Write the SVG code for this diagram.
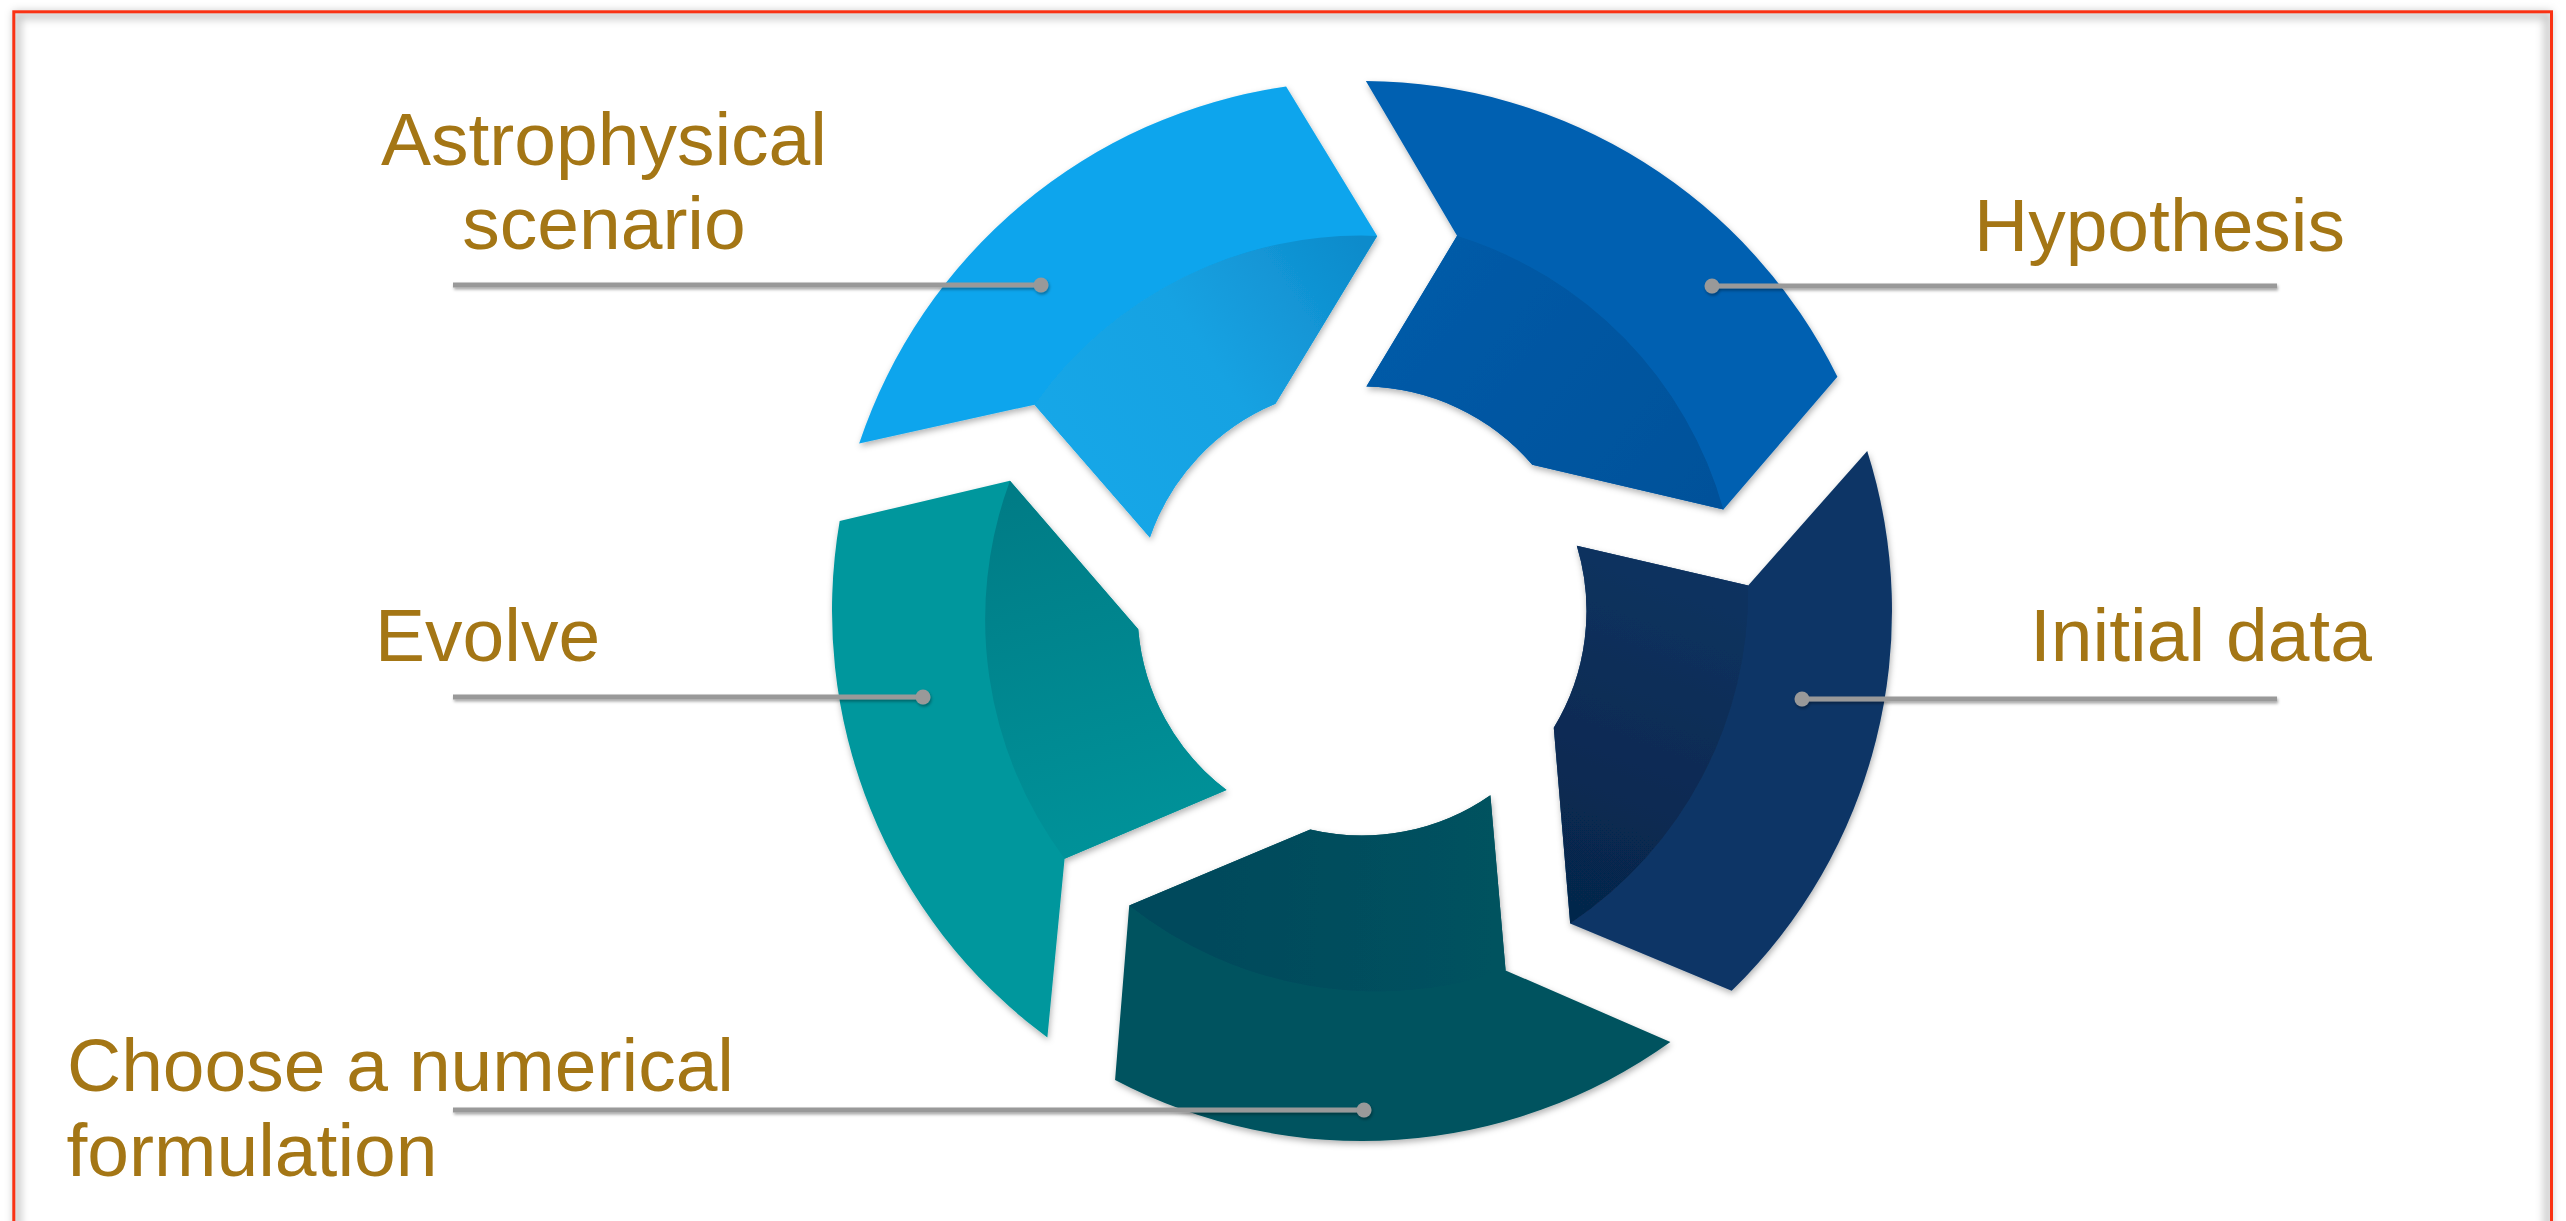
<svg xmlns="http://www.w3.org/2000/svg" width="2566" height="1221" viewBox="0 0 2566 1221">
  <defs>
    <style>
      .label { font-family: "Liberation Sans", Arial, sans-serif; font-size: 75px; fill: #a47615; }
      .lead { stroke: #999999; stroke-width: 5; fill: none; }
      .dot { fill: #999999; }
      .frame { fill: none; stroke: #fa3214; stroke-width: 3; }
      .frame-shade { fill: none; stroke: #000; stroke-opacity: 0.22; stroke-width: 8; }
    </style>

    <!-- One arrow segment of the cycle, drawn with its leading tip on the +x axis,
         centred on the ring centre. Trailing end is the notch that receives the
         previous segment's tip (72 degrees earlier). -->
    <path id="seg" d="M 146.95,-509.21 A 530 530 0 0 1 521.04,-97.05 L 375.4,0 L 203.46,-94.88 A 224.5 224.5 0 0 0 64.89,-214.92 L 192.92,-335.51 Z"/>
    <!-- Inner shaded band of a segment, from the notch to the tip -->
    <path id="band" d="M 192.92,-335.51 A 400 400 0 0 1 375.4,0 L 203.46,-94.88 A 224.5 224.5 0 0 0 64.89,-214.92 Z"/>

    <linearGradient id="band-astro" gradientUnits="userSpaceOnUse" x1="150" y1="-330" x2="375" y2="-20">
      <stop offset="0" stop-color="#17a7e8"/>
      <stop offset="0.5" stop-color="#18a2e2"/>
      <stop offset="1" stop-color="#0d8bcb"/>
    </linearGradient>
    <linearGradient id="band-hyp" gradientUnits="userSpaceOnUse" x1="150" y1="-330" x2="375" y2="-20">
      <stop offset="0" stop-color="#055ba8"/>
      <stop offset="1" stop-color="#03519a"/>
    </linearGradient>
    <linearGradient id="band-init" gradientUnits="userSpaceOnUse" x1="150" y1="-330" x2="375" y2="-20">
      <stop offset="0" stop-color="#0a3361"/>
      <stop offset="1" stop-color="#06264b"/>
    </linearGradient>
    <linearGradient id="band-choose" gradientUnits="userSpaceOnUse" x1="150" y1="-330" x2="375" y2="-20">
      <stop offset="0" stop-color="#03535f"/>
      <stop offset="1" stop-color="#02485b"/>
    </linearGradient>
    <linearGradient id="band-evolve" gradientUnits="userSpaceOnUse" x1="150" y1="-330" x2="375" y2="-20">
      <stop offset="0" stop-color="#00939a"/>
      <stop offset="1" stop-color="#007c86"/>
    </linearGradient>

    <filter id="seg-shadow" x="-10%" y="-10%" width="120%" height="120%">
      <feDropShadow dx="1" dy="3" stdDeviation="3" flood-color="#000" flood-opacity="0.3"/>
    </filter>
    <filter id="line-shadow" x="-5%" y="-200%" width="110%" height="500%">
      <feDropShadow dx="1" dy="2" stdDeviation="1.5" flood-color="#000" flood-opacity="0.35"/>
    </filter>
    <filter id="soft" x="-5%" y="-5%" width="110%" height="110%">
      <feGaussianBlur stdDeviation="4"/>
    </filter>
  </defs>

  <rect width="2566" height="1221" fill="#ffffff"/>

  <!-- page frame -->
  <g id="frame">
    <rect class="frame-shade" x="17" y="15" width="2531" height="1240" filter="url(#soft)"/>
    <rect class="frame" x="13.8" y="11.8" width="2537.7" height="1240"/>
  </g>

  <!-- cycle segments, clockwise from the top-left -->
  <g id="node-astrophysical" filter="url(#seg-shadow)">
    <g transform="translate(1362 611) rotate(-87.68)">
      <use href="#seg" fill="#0aa5ed"/>
      <use href="#band" fill="url(#band-astro)"/>
    </g>
  </g>
  <g id="node-hypothesis" filter="url(#seg-shadow)">
    <g transform="translate(1362 611) rotate(-15.68)">
      <use href="#seg" fill="#0561b1"/>
      <use href="#band" fill="url(#band-hyp)"/>
    </g>
  </g>
  <g id="node-initial-data" filter="url(#seg-shadow)">
    <g transform="translate(1362 611) rotate(56.32)">
      <use href="#seg" fill="#0a3566"/>
      <use href="#band" fill="url(#band-init)"/>
    </g>
  </g>
  <g id="node-numerical-formulation" filter="url(#seg-shadow)">
    <g transform="translate(1362 611) rotate(128.32)">
      <use href="#seg" fill="#02535f"/>
      <use href="#band" fill="url(#band-choose)"/>
    </g>
  </g>
  <g id="node-evolve" filter="url(#seg-shadow)">
    <g transform="translate(1362 611) rotate(200.32)">
      <use href="#seg" fill="#00979d"/>
      <use href="#band" fill="url(#band-evolve)"/>
    </g>
  </g>

  <!-- labels -->
  <g id="labels">
    <text class="label" text-anchor="middle"><tspan x="604" y="165">Astrophysical</tspan><tspan x="604" y="248.5">scenario</tspan></text>
    <text class="label" x="1974" y="251">Hypothesis</text>
    <text class="label" x="375" y="661">Evolve</text>
    <text class="label" x="2030" y="661">Initial data</text>
    <text class="label"><tspan x="67" y="1091">Choose a numerical</tspan><tspan x="66.5" y="1176">formulation</tspan></text>
  </g>

  <!-- leader lines from labels to segments -->
  <g id="connectors" filter="url(#line-shadow)">
    <line class="lead" x1="453" y1="285" x2="1041" y2="285"/>
    <circle class="dot" cx="1041" cy="285" r="7.5"/>
    <line class="lead" x1="1712" y1="286" x2="2277" y2="286"/>
    <circle class="dot" cx="1712" cy="286" r="7.5"/>
    <line class="lead" x1="453" y1="697" x2="923" y2="697"/>
    <circle class="dot" cx="923" cy="697" r="7.5"/>
    <line class="lead" x1="1802" y1="699" x2="2277" y2="699"/>
    <circle class="dot" cx="1802" cy="699" r="7.5"/>
    <line class="lead" x1="453" y1="1110" x2="1364" y2="1110"/>
    <circle class="dot" cx="1364" cy="1110" r="7.5"/>
  </g>
</svg>
